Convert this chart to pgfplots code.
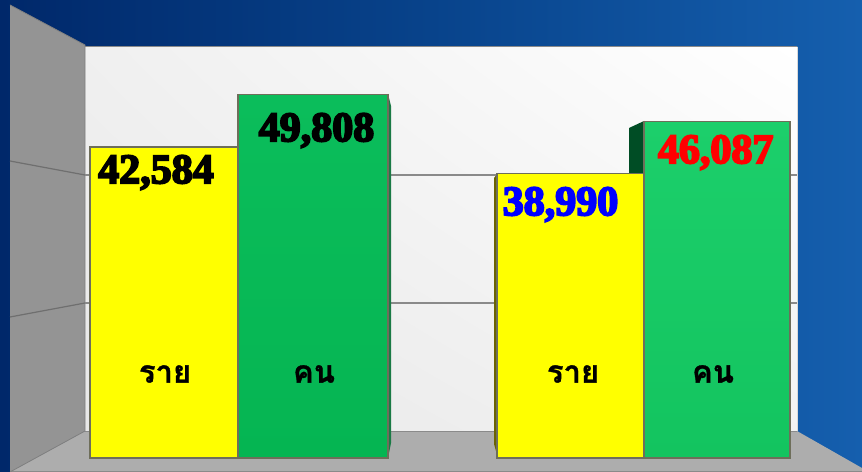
\documentclass[border=0pt]{standalone}
\usepackage{fontspec}
\usepackage{pgfplots}
\pgfplotsset{compat=1.18}
\usetikzlibrary{shadings}
\setmainfont{Liberation Serif}
\newfontfamily\valfont[FakeBold=4.5]{Liberation Serif Bold}
\newfontfamily\thaifont[Script=Thai,FakeBold=1]{Loma}
\definecolor{navyA}{HTML}{00286A}
\definecolor{navyB}{HTML}{08438B}
\definecolor{navyC}{HTML}{155FAE}
\definecolor{wall}{HTML}{949494}
\definecolor{floorc}{HTML}{ADADAD}
\definecolor{edge}{HTML}{6E6E5A}
\definecolor{gridc}{HTML}{8A8A8A}
\definecolor{gridw}{HTML}{6F6F6F}
\definecolor{sideA}{HTML}{1A7A45}
\definecolor{sideB}{HTML}{6B6400}
\definecolor{sideC}{HTML}{004D25}
\definecolor{gA}{HTML}{0BBD5B}
\definecolor{gB}{HTML}{05B552}
\definecolor{gC}{HTML}{1CCF6B}
\definecolor{gD}{HTML}{13C45F}
\definecolor{yel}{HTML}{FFFF00}
\begin{document}
\begin{tikzpicture}[x=1bp,y=-1bp]
\useasboundingbox (0,0) rectangle (862,472);
% blue backdrop
\shade[left color=navyA,right color=navyC,middle color=navyB] (0,0) rectangle (862,472);
% back wall
\shade[lower left=white!91!black,upper right=white,upper left=white!94!black,lower right=white!95!black] (85,47) rectangle (797,431);
\draw[gridc,line width=1bp] (85,47) -- (797,47);
\draw[white!70!gray,line width=1bp] (797,47) -- (797,431);
% floor
\fill[floorc] (85,431) -- (797,431) -- (862,468) -- (862,472) -- (10,472) -- cycle;
\draw[gridc,line width=1bp] (10,471) -- (862,471);
\draw[gridc,line width=1bp] (85,431) -- (797,431);
% left wall
\fill[wall] (10,5) -- (85,45) -- (85,431) -- (10,472) -- cycle;
\draw[gray,line width=.8bp] (10,5) -- (85,45) -- (85,431) -- (10,472);
% gridlines
\draw[gridw,line width=1.2bp] (10,161) -- (85,175);
\draw[gridw,line width=1.2bp] (10,317) -- (85,303);
\draw[gridc,line width=1.4bp] (85,175) -- (797,175);
\draw[gridc,line width=1.4bp] (85,303) -- (797,303);
% bar side faces
\fill[sideA] (388,94) -- (391,106) -- (391,443) -- (388,458) -- cycle;
\fill[sideB] (494,178) -- (498,173) -- (498,458) -- (494,444) -- cycle;
\fill[sideC] (629,128) -- (644,121) -- (644,175) -- (629,175) -- cycle;
\begin{axis}[
  at={(0,0)},anchor=north west,
  width=862bp,height=472bp,scale only axis,
  axis lines=none,
  xmin=0,xmax=862,ymin=-1918,ymax=62740,
  ybar,bar shift=0pt,
  every axis plot/.append style={draw=edge,line width=1.4bp},
]
\addplot[fill=yel,bar width=148] coordinates {(164,42584)};
\addplot[bar width=150,top color=gA,bottom color=gB] coordinates {(313,49808)};
\addplot[fill=yel,bar width=147] coordinates {(570.5,38990)};
\addplot[bar width=146,top color=gC,bottom color=gD] coordinates {(717,46087)};
\end{axis}
\newcommand\val{\valfont\fontsize{42bp}{42bp}\selectfont}
\newcommand\thai{\thaifont\bfseries\fontsize{31bp}{31bp}\selectfont}
\node[text=black] at (156,172.5) {\val 42,584};
\node[text=black] at (316.5,130.5) {\val 49,808};
\node[text=blue] at (560.5,204.5) {\val 38,990};
\node[text=red] at (715.7,152.5) {\val 46,087};
\node at (165,374) {\thai ราย};
\node at (314,374) {\thai คน};
\node at (573,374) {\thai ราย};
\node at (713,374) {\thai คน};
\end{tikzpicture}
\end{document}
